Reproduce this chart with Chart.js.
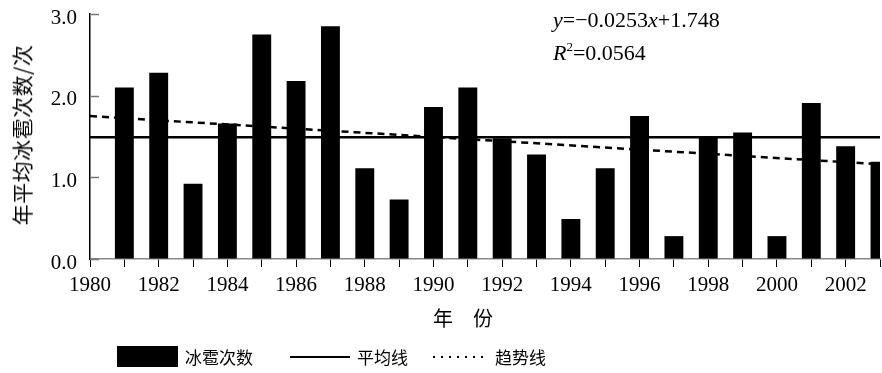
<!DOCTYPE html>
<html>
<head>
<meta charset="utf-8">
<script src="https://cdn.jsdelivr.net/npm/chart.js@4.4.1/dist/chart.umd.min.js"></script>
<style>
  html, body { margin:0; padding:0; background:#fff; }
  #wrap { position:relative; width:882px; height:373px; overflow:hidden; background:#fff; }
  #c { position:absolute; left:0; top:0; }
  .cjk { font-family:"Noto Sans CJK SC", sans-serif; color:#000; position:absolute; white-space:nowrap; }
  .serif { font-family:"Liberation Serif", "Times New Roman", serif; color:#000; position:absolute; white-space:nowrap; }
</style>
</head>
<body>
<div id="wrap">
  <canvas id="c" width="882" height="373"></canvas>
  <div class="cjk" id="ytitle" style="font-size:21px; letter-spacing:0.5px; left:21px; top:135px; transform:translate(-50%,-50%) rotate(-90deg);">年平均冰雹次数/次</div>
  <div class="cjk" id="xtitle" style="font-size:20px; left:433px; top:304px; line-height:28px;">年　份</div>
  <div class="serif" id="eq1" style="font-size:22px; left:553px; top:6px; line-height:28px;"><i>y</i>=−0.0253<i>x</i>+1.748</div>
  <div class="serif" id="eq2" style="font-size:22px; left:553px; top:33px; line-height:28px;"><i>R</i><sup style="font-size:13px; vertical-align:9px;">2</sup>=0.0564</div>
  <div id="legend" style="position:absolute; left:0; top:344px; width:882px; height:26px;">
    <div style="position:absolute; left:117px; top:2px; width:61px; height:21px; background:#000;"></div>
    <div class="cjk" style="font-size:17px; left:185px; top:0px; line-height:26px;">冰雹次数</div>
    <div style="position:absolute; left:290px; top:12px; width:60px; height:2px; background:#000;"></div>
    <div class="cjk" style="font-size:17px; left:357px; top:0px; line-height:26px;">平均线</div>
    <div style="position:absolute; left:433px; top:12px; width:56px; height:2px; background:repeating-linear-gradient(to right,#000 0 2px,transparent 2px 8px);"></div>
    <div class="cjk" style="font-size:17px; left:495px; top:0px; line-height:26px;">趋势线</div>
  </div>
</div>
<script>
// ---- data ----
const years = ['1980','1981','1982','1983','1984','1985','1986','1987','1988','1989','1990','1991',
               '1992','1993','1994','1995','1996','1997','1998','1999','2000','2001','2002','2003'];
const hailCounts = [null, 2.10, 2.28, 0.92, 1.66, 2.75, 2.18, 2.85, 1.11, 0.73, 1.86, 2.10,
                    1.48, 1.28, 0.49, 1.11, 1.75, 0.28, 1.49, 1.55, 0.28, 1.91, 1.38, 1.19];
const meanYears = ['1980', '2003'];
const meanValues = [1.49, 1.49];
const trendYears = ['1980', '2003'];
const trendValues = [1.75, 1.16];
const yTickValues = [0, 1, 2, 3];

const innerTicks = {
  id: 'innerTicks',
  afterDatasetsDraw(chart) {
    const y = chart.scales.y, ctx = chart.ctx, left = chart.chartArea.left;
    ctx.save();
    ctx.strokeStyle = '#777';
    ctx.lineWidth = 1.5;
    yTickValues.forEach(v => {
      const py = Math.round(y.getPixelForValue(v)) + 0.5;
      ctx.beginPath(); ctx.moveTo(left, py); ctx.lineTo(left + 9, py); ctx.stroke();
    });
    ctx.restore();
  }
};

new Chart(document.getElementById('c'), {
  type: 'bar',
  data: {
    labels: years,
    datasets: [
      {
        type: 'line', label: '趋势线', order: 0,
        data: trendYears.map((x, i) => ({x, y: trendValues[i]})),
        borderColor: '#000', borderWidth: 2.5, borderDash: [7, 5],
        pointRadius: 0, fill: false, tension: 0
      },
      {
        type: 'line', label: '平均线', order: 1,
        data: meanYears.map((x, i) => ({x, y: meanValues[i]})),
        borderColor: '#000', borderWidth: 2.5,
        pointRadius: 0, fill: false, tension: 0
      },
      {
        type: 'bar', label: '冰雹次数', order: 2,
        data: hailCounts,
        backgroundColor: '#000', borderWidth: 0,
        barPercentage: 0.55, categoryPercentage: 1.0
      }
    ]
  },
  options: {
    responsive: false,
    animation: false,
    devicePixelRatio: 1,
    layout: { padding: { left: 0, right: 2, top: 14, bottom: 0 } },
    plugins: { legend: { display: false }, tooltip: { enabled: false } },
    scales: {
      x: {
        type: 'category',
        offset: false,
        grid: { offset: false, drawOnChartArea: false, drawTicks: true, tickLength: 8, color: '#000', lineWidth: 1 },
        border: { display: true, color: '#888', width: 1.5 },
        ticks: {
          autoSkip: false, maxRotation: 0, minRotation: 0, padding: 6,
          color: '#000', font: { family: 'Liberation Serif', size: 21 },
          callback: function(v, i) { const l = years[i]; return (+l % 2 === 0 && i !== years.length - 1) ? l : ''; }
        },
        afterFit(s) { s.height = 114; s.paddingLeft = 0; s.paddingRight = 0; }
      },
      y: {
        min: 0, max: 3,
        grid: { drawOnChartArea: false, drawTicks: false },
        border: { display: true, color: '#000', width: 1.5 },
        ticks: {
          stepSize: 1, padding: 13, labelOffset: 4,
          color: '#000', font: { family: 'Liberation Serif', size: 21 },
          callback: v => v.toFixed(1)
        },
        afterFit(s) { s.width = 90; s.paddingTop = 0; s.paddingBottom = 0; }
      }
    }
  },
  plugins: [innerTicks]
});
</script>
</body>
</html>
